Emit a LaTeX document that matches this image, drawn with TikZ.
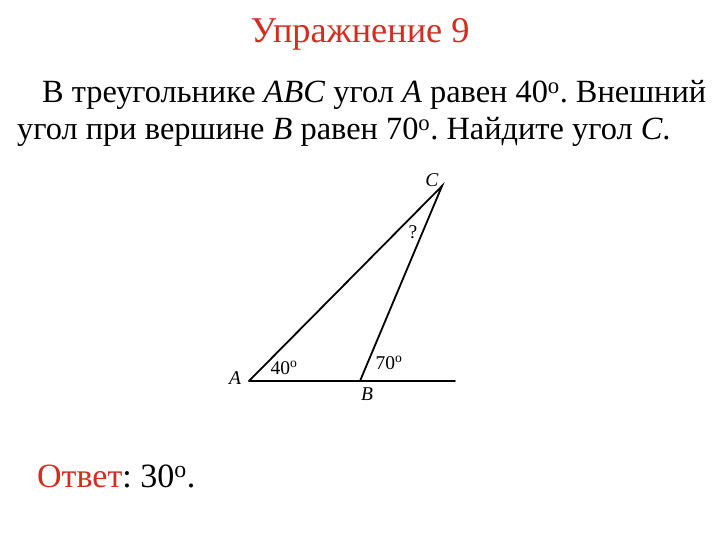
\documentclass[tikz,border=0pt]{standalone}
\usepackage{fontspec}
\setmainfont{Liberation Serif}
\definecolor{titlered}{RGB}{210,45,30}
\frenchspacing
\begin{document}
\begin{tikzpicture}[x=1pt,y=-1pt,
  body/.style={font=\fontsize{32.4}{36}\selectfont, anchor=base west, inner sep=0pt},
  lbl/.style={font=\fontsize{19.5}{22}\selectfont, inner sep=0pt},
  seg/.style={line width=1.8pt, line cap=round}]
\useasboundingbox (0,0) rectangle (720,540);
\node[font=\fontsize{36.3}{40}\selectfont, text=titlered, anchor=base, inner sep=0pt] (title) at (360,43) {Упражнение 9};
\node[body] (l1) at (42,103) {В треугольнике \textit{ABC} угол \textit{A} равен 40\textsuperscript{o}. Внешний};
\node[body] (l2) at (17,140) {угол при вершине \textit{B} равен 70\textsuperscript{o}. Найдите угол \textit{C}.};
\node[body, font=\fontsize{34}{38}\selectfont] (ans) at (37,487) {\textcolor{titlered}{Ответ}: 30\textsuperscript{o}.};
\coordinate (A) at (249,381);
\coordinate (B) at (360,381);
\coordinate (C) at (442,186);
\coordinate (E) at (455,381);
\draw[seg] (A) -- (E);
\draw[seg] (A) -- (C) -- (B);
\node[lbl] (la) at (235,378) {\textit{A}};
\node[lbl] (lb) at (367,394) {\textit{B}};
\node[lbl] (lc) at (432,180) {\textit{C}};
\node[lbl] (q) at (413,232) {?};
\node[lbl] (a40) at (284,368) {40\textsuperscript{o}};
\node[lbl] (a70) at (389,363) {70\textsuperscript{o}};
\end{tikzpicture}
\end{document}
